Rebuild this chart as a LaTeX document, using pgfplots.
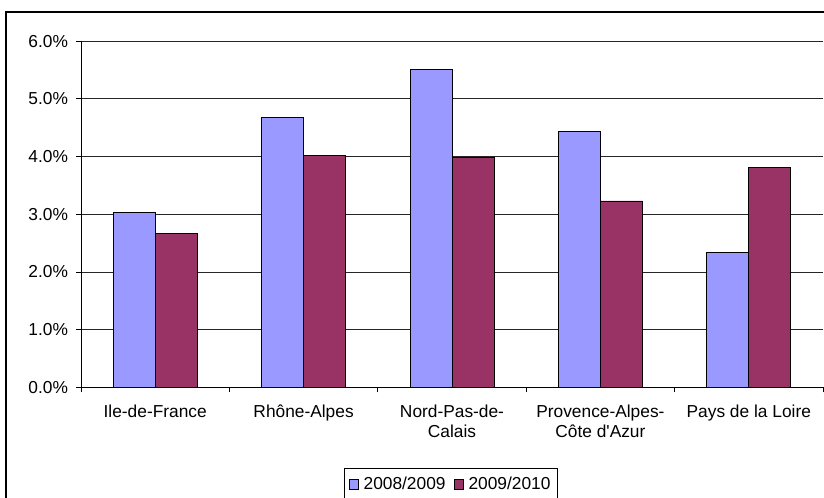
\documentclass[border=0pt]{standalone}
\usepackage{fontspec}
\setmainfont{Liberation Sans}[Ligatures=TeXOff]
\usepackage{pgfplots}
\pgfplotsset{compat=1.18}
\definecolor{serA}{HTML}{9999FF}
\definecolor{serB}{HTML}{993366}

\pgfplotstableread{
x a b
0 3.03 2.67
1 4.68 4.02
2 5.51 3.98
3 4.43 3.23
4 2.34 3.81
}\regiondata

\begin{document}
\begin{tikzpicture}
% 1px = 0.75pt, origin at top left of the 824x497 frame
\useasboundingbox (0pt,0pt) rectangle (618pt,-372.75pt);
\draw[line width=1.5pt] (4.5pt,-380pt) -- (4.5pt,-9pt) -- (625pt,-9pt);
\begin{axis}[
    at={(60.75pt,-290.5pt)}, anchor=south west,
    scale only axis,
    width=556.5pt, height=259.7pt,
    ybar=0pt, bar width=31.5pt,
    xmin=-0.5, xmax=4.5,
    ymin=0, ymax=6,
    axis x line*=bottom, axis y line*=left,
    axis line style={black, line width=0.6pt},
    xtick={0,1,2,3,4},
    xticklabels={Ile-de-France, Rhône-Alpes, {Nord-Pas-de-\\Calais}, {Provence-Alpes-\\Côte d'Azur}, Pays de la Loire},
    minor xtick={-0.5,0.5,1.5,2.5,3.5,4.5},
    major x tick style={draw=none},
    tick align=outside,
    major tick length=3.75pt, minor tick length=3.75pt,
    tick style={black, line width=0.6pt},
    ytick={0,1,2,3,4,5,6},
    yticklabels={0.0\%,1.0\%,2.0\%,3.0\%,4.0\%,5.0\%,6.0\%},
    yticklabel style={font=\fontsize{13pt}{15pt}\selectfont, xshift=-2.5pt},
    xticklabel style={font=\fontsize{13pt}{14.6pt}\selectfont, align=center, yshift=-6pt},
    ymajorgrids,
    grid style={black!85, line width=0.6pt},
    legend style={at={(0.4985,-0.2335)}, anchor=north, legend columns=-1,
      draw=black, line width=0.6pt, font=\fontsize{13pt}{15pt}\selectfont,
      inner xsep=3.5pt, inner ysep=4.5pt,
      /tikz/every odd column/.append style={column sep=2pt},
      /tikz/every even column/.append style={column sep=4pt}},
    legend image code/.code={\draw[#1, line width=0.5pt] (0pt,-3.6pt) rectangle (6.75pt,3.6pt);},
  ]
\addplot[fill=serA, draw=black, line width=0.6pt] table[x=x, y=a] {\regiondata};
\addplot[fill=serB, draw=black, line width=0.6pt] table[x=x, y=b] {\regiondata};
\legend{2008/2009, 2009/2010}
\end{axis}
\end{tikzpicture}
\end{document}
